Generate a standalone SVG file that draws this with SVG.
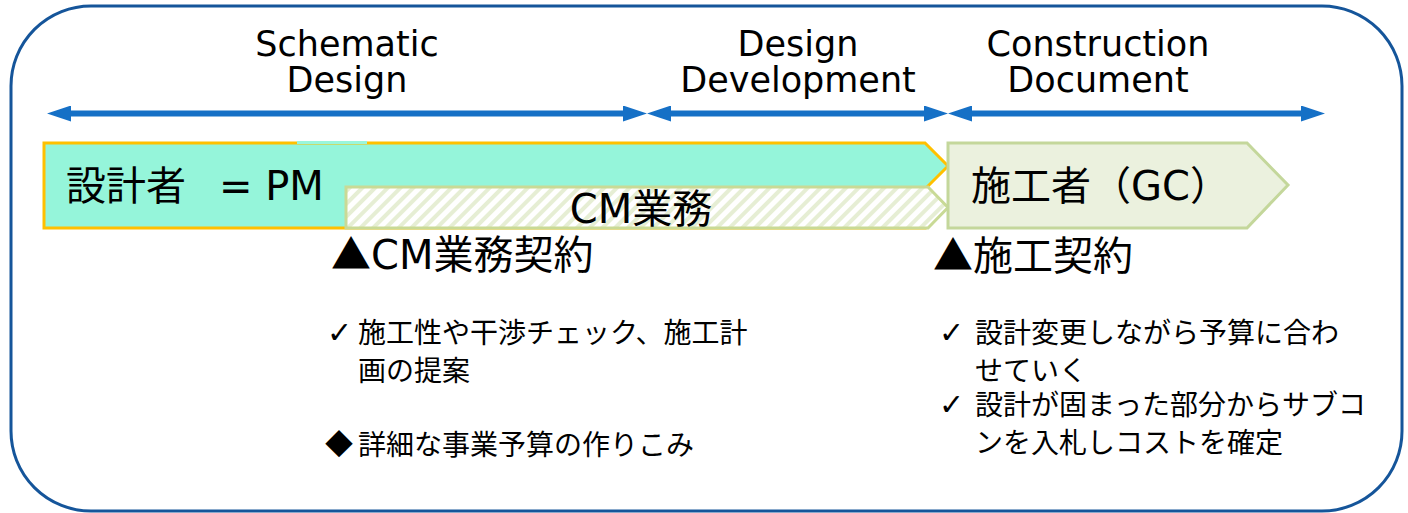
<svg xmlns="http://www.w3.org/2000/svg" width="1408" height="513" viewBox="0 0 1408 513">
  <style>
    .hdr { font-family: "DejaVu Sans", "Noto Sans CJK JP", sans-serif; font-size: 35px; fill: #000; text-anchor: middle; }
    .big { font-family: "DejaVu Sans", "Noto Sans CJK JP", sans-serif; font-size: 40px; fill: #000; }
    .body { font-family: "DejaVu Sans", "Noto Sans CJK JP", sans-serif; font-size: 28px; fill: #000; }
    .cjk { font-family: "Noto Sans CJK JP", sans-serif; }
    .mark { font-family: "DejaVu Sans", sans-serif; font-size: 30px; fill: #000; }
    .arrow { stroke: #1570C6; stroke-width: 6; fill: none; marker-start: url(#ah); marker-end: url(#ah); }
  </style>
  <defs>
    <marker id="ah" markerUnits="userSpaceOnUse" markerWidth="24" markerHeight="16" viewBox="0 0 24 16" refX="2" refY="8" orient="auto-start-reverse">
      <path d="M0,0 L24,8 L0,16 z" fill="#1570C6"/>
    </marker>
    <pattern id="hatch" patternUnits="userSpaceOnUse" width="9" height="9" patternTransform="rotate(45)">
      <rect x="0" y="0" width="9" height="9" fill="#ffffff"/>
      <rect x="0" y="0" width="4" height="9" fill="#E6EED4"/>
    </pattern>
  </defs>

  <rect id="frame" x="11" y="6" width="1391" height="505" rx="80" ry="80" fill="#ffffff" stroke="#15559A" stroke-width="3"/>

  <g id="phase-labels">
    <text class="hdr" x="347" y="56">Schematic</text>
    <text class="hdr" x="347" y="92">Design</text>
    <text class="hdr" x="798" y="56">Design</text>
    <text class="hdr" x="798" y="92">Development</text>
    <text class="hdr" x="1098" y="56">Construction</text>
    <text class="hdr" x="1098" y="92">Document</text>
  </g>

  <g id="connectors">
    <line class="arrow" x1="69" y1="113.5" x2="625" y2="113.5"/>
    <line class="arrow" x1="669" y1="113.5" x2="926" y2="113.5"/>
    <line class="arrow" x1="970" y1="113.5" x2="1303" y2="113.5"/>
  </g>

  <g id="designer-bar">
    <polygon points="44,143 925,143 948,166 925,189 925,228 44,228" fill="#95F5DA" stroke="#FFC000" stroke-width="3"/>
    <rect x="297" y="141" width="70" height="3" fill="#9AF6DC"/>
    <text class="big" x="66" y="200">設計者<tspan x="219">= PM</tspan></text>
  </g>

  <g id="cm-bar">
    <polygon points="346,187 928,187 948,207.5 928,228 346,228" fill="url(#hatch)" stroke="#C9DA96" stroke-width="3"/>
    <text class="big" x="641" y="223" text-anchor="middle">CM業務</text>
  </g>

  <g id="gc-bar">
    <polygon points="948,143 1247,143 1288,185 1247,228 948,228" fill="#EBF1DE" stroke="#C4D79B" stroke-width="3"/>
    <text class="big" x="971" y="200" font-size="39">施工者（GC）</text>
  </g>

  <g id="cm-contract">
    <text class="big" x="331" y="269"><tspan class="cjk">▲</tspan>CM業務契約</text>
  </g>

  <g id="gc-contract">
    <text class="big" x="933" y="270"><tspan class="cjk">▲</tspan>施工契約</text>
  </g>

  <g id="cm-notes">
    <text class="mark" x="327" y="343">✓</text>
    <text class="body" x="358" y="343">施工性や干渉チェック、施工計</text>
    <text class="body" x="358" y="381">画の提案</text>
    <text class="body cjk" x="325" y="455">◆</text>
    <text class="body" x="358" y="455">詳細な事業予算の作りこみ</text>
  </g>

  <g id="gc-notes">
    <text class="mark" x="939" y="343">✓</text>
    <text class="body" x="975" y="343">設計変更しながら予算に合わ</text>
    <text class="body" x="975" y="381">せていく</text>
    <text class="mark" x="939" y="415">✓</text>
    <text class="body" x="975" y="415">設計が固まった部分からサブコ</text>
    <text class="body" x="975" y="453">ンを入札しコストを確定</text>
  </g>
</svg>
